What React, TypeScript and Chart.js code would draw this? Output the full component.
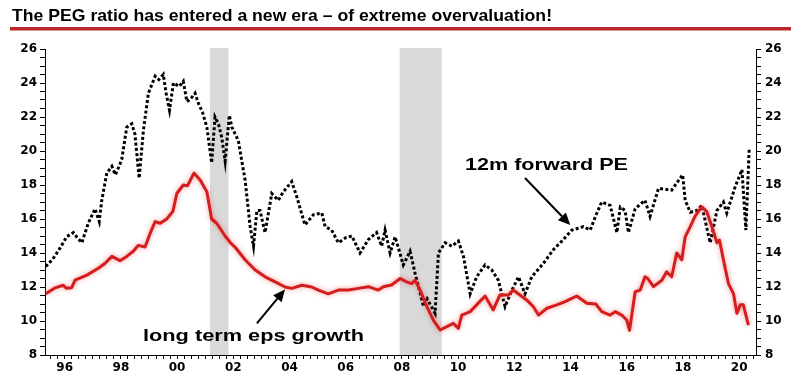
import React, { useEffect, useRef } from "react";
import { Chart, registerables } from "chart.js";

Chart.register(...registerables);

const TITLE = "The PEG ratio has entered a new era – of extreme overvaluation!";
const PE_LABEL = "12m forward PE";
const EPS_LABEL = "long term eps growth";

// 12m forward PE (black dotted)
const peYears = [
  1995.33, 1995.6, 1995.84, 1996.07, 1996.31, 1996.45, 1996.61, 1996.84, 1997.08, 1997.23,
  1997.32, 1997.5, 1997.68, 1997.8, 1997.91, 1998.03, 1998.21, 1998.39, 1998.5, 1998.65,
  1998.8, 1998.98, 1999.22, 1999.35, 1999.51, 1999.61, 1999.73, 1999.87, 2000.08, 2000.22,
  2000.35, 2000.5, 2000.64, 2000.76, 2000.9, 2001.06, 2001.23, 2001.35, 2001.47, 2001.59,
  2001.71, 2001.86, 2001.95, 2002.18, 2002.42, 2002.6, 2002.72, 2002.84, 2002.95, 2003.13,
  2003.37, 2003.6, 2003.78, 2004.08, 2004.26, 2004.55, 2004.85, 2005.15, 2005.27, 2005.5,
  2005.74, 2006.0, 2006.22, 2006.51, 2006.81, 2007.1, 2007.28, 2007.4, 2007.58, 2007.76,
  2008.05, 2008.29, 2008.47, 2008.77, 2008.9, 2009.18, 2009.3, 2009.54, 2009.78, 2010.01,
  2010.19, 2010.43, 2010.66, 2010.96, 2011.2, 2011.43, 2011.67, 2011.91, 2012.15, 2012.38,
  2012.62, 2013.04, 2013.39, 2013.69, 2014.05, 2014.46, 2014.7, 2014.9, 2015.11, 2015.41,
  2015.65, 2015.77, 2015.94, 2016.06, 2016.3, 2016.65, 2016.83, 2017.13, 2017.6, 2017.99,
  2018.08, 2018.26, 2018.5, 2018.67, 2018.97, 2019.21, 2019.44, 2019.56, 2019.86, 2020.1,
  2020.24, 2020.36,
];
const peValues = [
  13.2, 13.7, 14.3, 14.96, 15.2, 14.9, 14.6, 15.75, 16.6, 15.85,
  17.1, 18.7, 19.1, 18.6, 19.0, 19.5, 21.4, 21.6, 21.0, 18.4,
  21.2, 23.4, 24.4, 24.2, 24.5, 23.4, 22.4, 24.0, 23.8, 24.1,
  22.9, 23.1, 23.4, 22.8, 22.3, 21.4, 19.3, 22.0, 21.6, 20.8,
  19.4, 22.1, 21.4, 20.6, 18.3, 15.55, 14.4, 16.5, 16.5, 15.2,
  17.5, 17.1, 17.6, 18.2, 17.3, 15.65, 16.25, 16.35, 15.55, 15.35,
  14.6, 14.9, 15.0, 14.0, 14.8, 15.2, 14.4, 15.35, 14.0, 14.95,
  13.3, 14.1, 12.8, 10.85, 11.3, 10.45, 14.0, 14.6, 14.4, 14.7,
  13.8, 11.6, 12.6, 13.3, 13.0, 12.4, 10.85, 11.8, 12.6, 11.6,
  12.6, 13.4, 14.2, 14.7, 15.35, 15.55, 15.35, 16.2, 17.0, 16.8,
  15.2, 16.7, 16.5, 15.2, 16.6, 17.1, 16.15, 17.8, 17.7, 18.6,
  17.1, 16.4, 16.5, 16.8, 14.6, 16.5, 17.0, 16.35, 17.9, 18.9,
  15.35, 20.2,
];

// long term eps growth (red)
const epsYears = [
  1995.33, 1995.66, 1995.95, 1996.07, 1996.25, 1996.37, 1996.79, 1997.2, 1997.44, 1997.68,
  1997.97, 1998.21, 1998.44, 1998.62, 1998.86, 1999.04, 1999.22, 1999.4, 1999.63, 1999.85,
  1999.99, 2000.22, 2000.37, 2000.6, 2000.82, 2001.06, 2001.23, 2001.41, 2001.71, 2001.9,
  2002.06, 2002.42, 2002.78, 2003.13, 2003.49, 2003.84, 2004.08, 2004.44, 2004.79, 2005.03,
  2005.38, 2005.74, 2006.1, 2006.45, 2006.81, 2007.16, 2007.34, 2007.63, 2007.94, 2008.17,
  2008.35, 2008.47, 2008.65, 2008.89, 2009.12, 2009.36, 2009.6, 2009.83, 2010.01, 2010.13,
  2010.43, 2010.66, 2010.96, 2011.25, 2011.49, 2011.79, 2011.96, 2012.2, 2012.44, 2012.68,
  2012.86, 2013.16, 2013.51, 2013.81, 2014.22, 2014.58, 2014.9, 2015.11, 2015.41, 2015.59,
  2015.82, 2016.0, 2016.1, 2016.3, 2016.48, 2016.65, 2016.75, 2016.95, 2017.25, 2017.42,
  2017.6, 2017.78, 2017.96, 2018.08, 2018.26, 2018.43, 2018.67, 2018.85, 2019.03, 2019.21,
  2019.3, 2019.44, 2019.62, 2019.8, 2019.92, 2020.04, 2020.15, 2020.33,
];
const epsValues = [
  11.6, 11.95, 12.1, 11.92, 11.96, 12.4, 12.7, 13.1, 13.4, 13.8,
  13.55, 13.8, 14.1, 14.45, 14.35, 15.15, 15.85, 15.75, 16.0, 16.45,
  17.5, 18.0, 17.95, 18.7, 18.3, 17.6, 16.0, 15.75, 15.0, 14.6,
  14.35, 13.6, 13.0, 12.6, 12.3, 12.0, 11.92, 12.1, 12.0, 11.82,
  11.6, 11.82, 11.82, 11.92, 12.02, 11.82, 12.02, 12.12, 12.5, 12.3,
  12.2, 12.4, 11.82, 10.85, 10.05, 9.47, 9.67, 9.86, 9.57, 10.35,
  10.55, 10.95, 11.47, 10.65, 11.53, 11.53, 11.82, 11.53, 11.24, 10.84,
  10.35, 10.75, 10.95, 11.14, 11.47, 11.04, 11.0, 10.55, 10.35, 10.55,
  10.35, 10.06, 9.45, 11.72, 11.82, 12.6, 12.5, 12.02, 12.4, 12.9,
  12.6, 14.0, 13.6, 14.95, 15.55, 16.15, 16.72, 16.43, 15.55, 14.6,
  14.76, 13.6, 12.2, 11.6, 10.45, 10.95, 10.95, 9.76,
];

// US recessions (shaded)
const recessionStarts = [2001.17, 2007.92];
const recessionEnds = [2001.83, 2009.42];

const X_MIN = 1995.3;
const X_MAX = 2020.6;
const Y_MIN = 8;
const Y_MAX = 26;

function drawFittedText(ctx: CanvasRenderingContext2D, text: string, x: number, y: number, font: string, width: number) {
  ctx.save();
  ctx.font = font;
  ctx.textBaseline = "alphabetic";
  ctx.textAlign = "left";
  const w = ctx.measureText(text).width;
  ctx.translate(x, y);
  ctx.scale(width / w, 1);
  ctx.fillStyle = "#000";
  ctx.fillText(text, 0, 0);
  ctx.restore();
}

function drawArrow(ctx: CanvasRenderingContext2D, x1: number, y1: number, x2: number, y2: number) {
  const ang = Math.atan2(y2 - y1, x2 - x1);
  const headLen = 12;
  const headW = 5.5;
  const bx = x2 - headLen * Math.cos(ang);
  const by = y2 - headLen * Math.sin(ang);
  ctx.save();
  ctx.strokeStyle = "#000";
  ctx.fillStyle = "#000";
  ctx.lineWidth = 2;
  ctx.beginPath();
  ctx.moveTo(x1, y1);
  ctx.lineTo(bx, by);
  ctx.stroke();
  ctx.beginPath();
  ctx.moveTo(x2, y2);
  ctx.lineTo(bx + headW * Math.sin(ang), by - headW * Math.cos(ang));
  ctx.lineTo(bx - headW * Math.sin(ang), by + headW * Math.cos(ang));
  ctx.closePath();
  ctx.fill();
  ctx.restore();
}

const tickFont = { family: "'DejaVu Sans', sans-serif", weight: "bold" as const, size: 12 };

export default function App() {
  const ref = useRef<HTMLCanvasElement>(null);

  useEffect(() => {
    document.body.style.margin = "0";
    const canvas = ref.current;
    if (!canvas) return;

    const decor = {
      id: "decor",
      beforeDatasetsDraw(chart: any) {
        const { ctx, chartArea, scales } = chart;
        const xs = scales.x;
        ctx.save();
        ctx.fillStyle = "#d9d9d9";
        for (let i = 0; i < recessionStarts.length; i++) {
          const a = xs.getPixelForValue(recessionStarts[i]);
          const b = xs.getPixelForValue(recessionEnds[i]);
          ctx.fillRect(a, chartArea.top - 1, b - a, chartArea.bottom - chartArea.top + 1);
        }
        ctx.restore();
      },
      beforeDatasetDraw(chart: any, args: any) {
        if (args.index === 0) {
          const ctx = chart.ctx;
          ctx.save();
          ctx.shadowColor = "rgba(230, 60, 60, 0.55)";
          ctx.shadowBlur = 5;
        }
      },
      afterDatasetDraw(chart: any, args: any) {
        if (args.index === 0) chart.ctx.restore();
      },
      afterDraw(chart: any) {
        const { ctx, scales } = chart;
        const xs = scales.x;
        const ys = scales.y;
        // title + rule
        drawFittedText(ctx, TITLE, 12, 21, "bold 17px 'Liberation Sans', Arial, sans-serif", 540);
        ctx.save();
        ctx.fillStyle = "#b8282a";
        ctx.fillRect(10, 27, 781, 3.5);
        ctx.restore();
        // annotations
        drawFittedText(ctx, PE_LABEL, 465, 169.5, "bold 17px 'Liberation Sans', Arial, sans-serif", 163);
        drawFittedText(ctx, EPS_LABEL, 143, 340.5, "bold 16px 'Liberation Sans', Arial, sans-serif", 221);
        drawArrow(ctx, xs.getPixelForValue(2012.38), ys.getPixelForValue(18.41), xs.getPixelForValue(2013.99), ys.getPixelForValue(15.65));
        drawArrow(ctx, xs.getPixelForValue(2002.84), ys.getPixelForValue(9.86), xs.getPixelForValue(2003.84), ys.getPixelForValue(11.86));
      },
    };

    const yTickCb = (v: any) => {
      const n = Number(v);
      return Math.abs(n - Math.round(n)) < 1e-6 && Math.round(n) % 2 === 0 ? String(Math.round(n)) : "";
    };

    const chart = new Chart(canvas, {
      type: "line",
      data: {
        datasets: [
          {
            label: EPS_LABEL,
            data: epsYears.map((x, i) => ({ x, y: epsValues[i] })),
            borderColor: "#d41e1e",
            borderWidth: 3,
            pointRadius: 0,
            tension: 0,
            borderJoinStyle: "round",
            yAxisID: "y",
          },
          {
            label: PE_LABEL,
            data: peYears.map((x, i) => ({ x, y: peValues[i] })),
            borderColor: "#000",
            borderWidth: 3,
            borderDash: [3, 2.3],
            pointRadius: 0,
            tension: 0,
            yAxisID: "y",
          },
        ],
      },
      options: {
        responsive: false,
        animation: false,
        devicePixelRatio: 1,
        events: [],
        layout: { padding: { top: 49, left: 0, right: 0, bottom: 0 } },
        plugins: {
          legend: { display: false },
          tooltip: { enabled: false },
          title: { display: false },
        },
        scales: {
          x: {
            type: "linear",
            min: X_MIN,
            max: X_MAX,
            afterFit: (s: any) => { s.height = 23; },
            border: { display: true, color: "#000", width: 1 },
            grid: { drawOnChartArea: false, drawTicks: true, tickLength: 4, tickColor: "#000" },
            ticks: {
              stepSize: 0.25,
              includeBounds: false,
              autoSkip: false,
              maxRotation: 0,
              minRotation: 0,
              padding: 2,
              color: "#000",
              font: tickFont,
              callback: (v: any) => {
                const n = Number(v);
                const r = Math.round(n);
                return Math.abs(n - r) < 1e-6 && r % 2 === 0 ? String(r % 100).padStart(2, "0") : "";
              },
            },
          },
          y: {
            type: "linear",
            position: "left",
            min: Y_MIN,
            max: Y_MAX,
            afterFit: (s: any) => { s.width = 45; },
            border: { display: true, color: "#000", width: 1 },
            grid: { drawOnChartArea: false, drawTicks: true, tickLength: 5, tickColor: "#000" },
            ticks: { stepSize: 0.5, autoSkip: false, padding: 3, color: "#000", font: tickFont, callback: yTickCb },
          },
          y2: {
            type: "linear",
            position: "right",
            min: Y_MIN,
            max: Y_MAX,
            afterFit: (s: any) => { s.width = 46; },
            border: { display: true, color: "#000", width: 1 },
            grid: { drawOnChartArea: false, drawTicks: true, tickLength: 5, tickColor: "#000" },
            ticks: { stepSize: 0.5, autoSkip: false, padding: 4, color: "#000", font: tickFont, callback: yTickCb },
          },
        },
      },
      plugins: [decor],
    } as any);

    return () => chart.destroy();
  }, []);

  return (
    <div style={{ width: 802, height: 378, background: "#fff" }}>
      <canvas ref={ref} width={802} height={378} style={{ display: "block" }} />
    </div>
  );
}
